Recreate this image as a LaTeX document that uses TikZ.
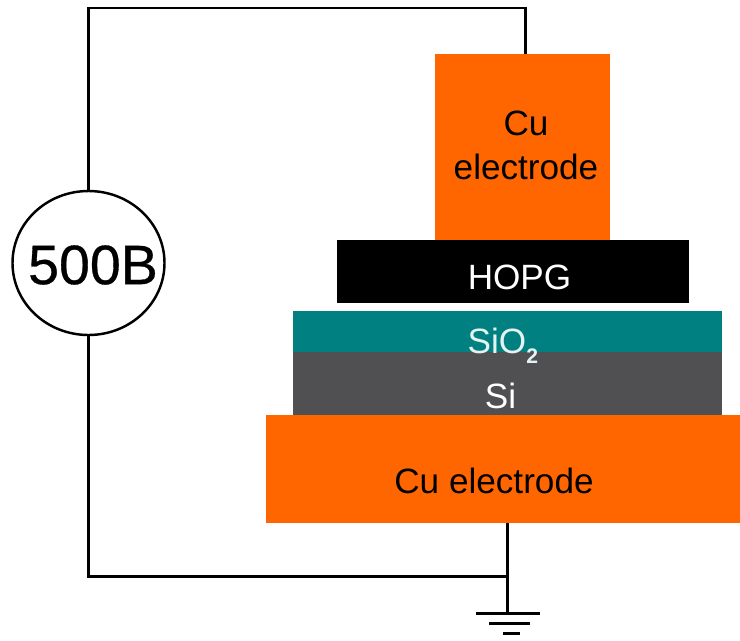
\documentclass[tikz,border=0pt]{standalone}
\usepackage{fontspec}
\setmainfont{Liberation Sans}
\newfontfamily\sourcefont[FakeBold=0.6]{Liberation Sans}
\usetikzlibrary{shapes.geometric}
\definecolor{cuorange}{HTML}{FF6600}
\definecolor{oxideteal}{HTML}{008080}
\definecolor{sigrey}{HTML}{505052}
\tikzset{
	layer/.style={inner sep=0pt,outer sep=0pt},
	wire/.style={line width=0.85pt,black},
	layertext/.style={inner sep=0pt,font=\fontsize{10}{12.5}\selectfont,align=center}
}

\begin{document}
\begin{tikzpicture}
			\useasboundingbox (0,0) rectangle (7.4,6.4);
			
			% Layers
			\node[layer,fill=cuorange,minimum width=1.75cm,minimum height=1.86cm] (cutop) at (5.225,4.93) {};
			\node[layer,fill=black,minimum width=3.52cm,minimum height=0.63cm] (hopg) at (5.13,3.685) {};
			\node[layer,fill=oxideteal,minimum width=4.29cm,minimum height=0.42cm] (oxide) at (5.075,3.08) {};
			\node[layer,fill=sigrey,minimum width=4.29cm,minimum height=0.63cm] (si) at (5.075,2.565) {};
			\node[layer,fill=cuorange,minimum width=4.74cm,minimum height=1.08cm] (cubot) at (5.03,1.71) {};
			
			% Labels
			\node[layertext] (cutoptext) at (5.26,4.95) {Cu\\electrode};
			\node[layertext,text=white] (hopgtext) at (5.195,3.63) {HOPG};
			\node[layertext,text=white!90!oxideteal,anchor=base west] (oxidetext) at (4.67,2.87) {SiO\raisebox{-0.55ex}{\fontsize{6}{7}\selectfont\bfseries 2}};
			\node[layertext,text=white] (sitext) at (5.005,2.44) {Si};
			\node[layertext] (cubottext) at (4.94,1.59) {Cu electrode};
			
			% Source
			\node[ellipse,draw,line width=0.7pt,inner sep=0pt,outer sep=0pt,minimum width=1.52cm,minimum height=1.44cm] (source) at (0.885,3.77) {};
			\node[inner sep=0pt,font=\fontsize{15.8}{18}\selectfont\sourcefont] (sourcetext) at (0.93,3.75) {500B};
			
			% Wires
			\coordinate (wiretop) at (5.25,6.32);
			\coordinate (wirebot) at (5.07,0.64);
			\coordinate (ground) at (5.07,0.27);
			\draw[wire] (source.north) |- (wiretop) -- (wiretop |- cutop.north);
			\draw[wire] (source.south) |- (wirebot);
			\draw[wire] (wirebot |- cubot.south) -- (ground);
			
			% Ground
			\draw[wire] (4.76,0.27) -- (5.40,0.27);
			\draw[wire] (4.89,0.165) -- (5.30,0.165);
			\draw[wire] (5.03,0.07) -- (5.20,0.07);
		\end{tikzpicture}
\end{document}
